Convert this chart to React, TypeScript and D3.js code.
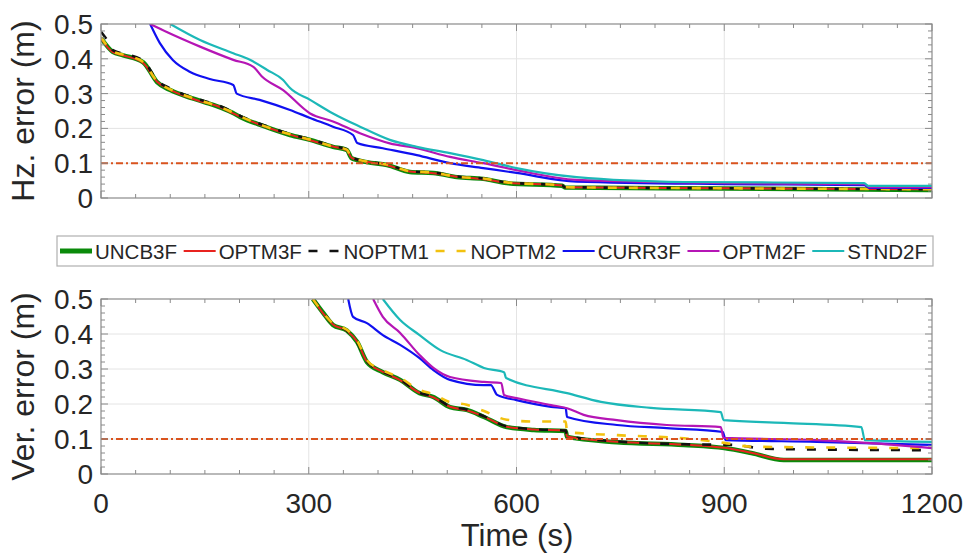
import React from 'react';
import * as d3 from 'd3';

// ---------- data ----------
const seriesNames = ['UNCB3F', 'OPTM3F', 'NOPTM1', 'NOPTM2', 'CURR3F', 'OPTM2F', 'STND2F'];
const xTicks = [0, 300, 600, 900, 1200];
const yTicks = [0, 0.1, 0.2, 0.3, 0.4, 0.5];
const yTickLabels = ['0', '0.1', '0.2', '0.3', '0.4', '0.5'];
const threshold = 0.1;

// Horizontal error [time s, error m]
const hzUNCB3F = [[0,0.46],[17,0.42],[32,0.41],[61,0.39],[81,0.333],[100,0.31],[131,0.287],[150,0.275],[167,0.264],[190,0.245],[201,0.233],[234,0.207],[273,0.181],[302,0.167],[335,0.147],[355,0.138],[362,0.114],[384,0.103],[413,0.095],[446,0.075],[480,0.072],[514,0.06],[552,0.055],[586,0.043],[666,0.035],[670,0.03],[900,0.027],[1200,0.023]];
const hzOPTM3F = [[0,0.458],[17,0.419],[32,0.41],[61,0.388],[81,0.334],[100,0.311],[131,0.286],[150,0.274],[167,0.265],[190,0.244],[201,0.234],[234,0.207],[273,0.182],[302,0.166],[335,0.148],[355,0.137],[362,0.115],[384,0.104],[413,0.094],[446,0.076],[480,0.071],[514,0.061],[552,0.054],[586,0.044],[666,0.036],[670,0.031],[900,0.028],[1200,0.025]];
const hzNOPTM1 = [[0,0.478],[10,0.45],[17,0.425],[32,0.415],[61,0.395],[81,0.338],[100,0.315],[131,0.29],[150,0.278],[167,0.268],[190,0.248],[201,0.236],[234,0.21],[273,0.184],[302,0.169],[335,0.149],[355,0.14],[362,0.116],[384,0.105],[413,0.096],[446,0.077],[480,0.073],[514,0.062],[552,0.056],[586,0.045],[666,0.036],[670,0.031],[900,0.028],[1200,0.025]];
const hzNOPTM2 = [[0,0.462],[17,0.421],[32,0.412],[61,0.391],[81,0.335],[100,0.312],[131,0.288],[150,0.276],[167,0.265],[190,0.246],[201,0.235],[234,0.208],[273,0.183],[302,0.168],[335,0.148],[355,0.139],[362,0.116],[384,0.105],[413,0.096],[446,0.077],[480,0.073],[514,0.061],[552,0.056],[586,0.045],[666,0.036],[670,0.031],[900,0.028],[1200,0.025]];
const hzCURR3F = [[71,0.5],[85,0.445],[104,0.396],[128,0.363],[157,0.342],[191,0.325],[196,0.3],[229,0.282],[273,0.253],[302,0.23],[335,0.205],[364,0.181],[370,0.158],[407,0.143],[456,0.123],[504,0.1],[552,0.086],[600,0.072],[687,0.047],[900,0.04],[1102,0.037],[1110,0.029],[1200,0.029]];
const hzOPTM2F = [[71,0.5],[95,0.477],[143,0.435],[191,0.397],[220,0.377],[232,0.35],[263,0.31],[302,0.243],[335,0.22],[374,0.186],[417,0.157],[456,0.143],[504,0.118],[552,0.1],[600,0.08],[687,0.052],[900,0.043],[1102,0.04],[1110,0.031],[1200,0.031]];
const hzSTND2F = [[100,0.5],[143,0.454],[191,0.416],[215,0.397],[240,0.368],[263,0.339],[273,0.316],[302,0.282],[335,0.243],[374,0.205],[417,0.167],[456,0.147],[504,0.129],[552,0.109],[600,0.086],[687,0.06],[842,0.046],[1102,0.043],[1108,0.035],[1200,0.035]];

// Vertical error [time s, error m]
const verUNCB3F = [[306,0.5],[321,0.46],[335,0.426],[355,0.41],[370,0.377],[384,0.32],[407,0.291],[432,0.269],[460,0.231],[480,0.22],[504,0.191],[528,0.183],[553,0.163],[586,0.134],[625,0.126],[671,0.123],[673,0.106],[745,0.091],[842,0.083],[900,0.074],[939,0.06],[986,0.04],[1200,0.04]];
const verOPTM3F = [[306,0.5],[321,0.458],[335,0.427],[355,0.409],[370,0.378],[384,0.321],[407,0.292],[432,0.268],[460,0.232],[480,0.219],[504,0.192],[528,0.182],[553,0.164],[586,0.135],[625,0.127],[671,0.124],[673,0.107],[745,0.092],[842,0.084],[900,0.075],[939,0.061],[986,0.042],[1200,0.042]];
const verNOPTM1 = [[306,0.5],[321,0.462],[335,0.428],[355,0.41],[370,0.376],[384,0.322],[407,0.293],[432,0.27],[460,0.232],[480,0.221],[504,0.193],[528,0.184],[553,0.165],[586,0.136],[625,0.128],[671,0.124],[673,0.108],[745,0.093],[842,0.085],[914,0.083],[960,0.072],[1200,0.068]];
const verNOPTM2 = [[306,0.5],[321,0.46],[335,0.43],[355,0.412],[370,0.38],[384,0.325],[407,0.296],[432,0.275],[460,0.24],[480,0.228],[504,0.205],[528,0.198],[553,0.18],[586,0.155],[625,0.15],[671,0.15],[673,0.12],[745,0.111],[842,0.102],[900,0.089],[939,0.078],[1200,0.074]];
const verCURR3F = [[357,0.5],[364,0.449],[384,0.431],[407,0.397],[432,0.369],[460,0.331],[480,0.297],[504,0.269],[553,0.254],[563,0.254],[572,0.226],[600,0.211],[650,0.192],[671,0.188],[673,0.163],[745,0.14],[817,0.131],[898,0.12],[902,0.097],[1034,0.092],[1200,0.083]];
const verOPTM2F = [[393,0.5],[407,0.449],[432,0.403],[460,0.34],[480,0.303],[504,0.277],[553,0.263],[578,0.26],[582,0.226],[600,0.217],[650,0.197],[673,0.188],[697,0.169],[745,0.154],[817,0.14],[895,0.134],[899,0.103],[1034,0.097],[1106,0.089],[1200,0.074]];
const verSTND2F = [[407,0.5],[432,0.44],[460,0.397],[490,0.354],[528,0.326],[553,0.303],[582,0.291],[585,0.274],[673,0.231],[722,0.206],[794,0.189],[895,0.177],[899,0.154],[986,0.146],[1098,0.134],[1103,0.097],[1200,0.092]];

const hzData = [hzUNCB3F, hzOPTM3F, hzNOPTM1, hzNOPTM2, hzCURR3F, hzOPTM2F, hzSTND2F];
const verData = [verUNCB3F, verOPTM3F, verNOPTM1, verNOPTM2, verCURR3F, verOPTM2F, verSTND2F];

// ---------- styles ----------
const styles = [
  { color: '#0a8a0a', width: 4.5, dash: '' },
  { color: '#e8231f', width: 2, dash: '' },
  { color: '#111111', width: 2.6, dash: '9,12' },
  { color: '#f2c10f', width: 2.6, dash: '9,12' },
  { color: '#1010f0', width: 2.2, dash: '' },
  { color: '#b515b5', width: 2.2, dash: '' },
  { color: '#1cb8b8', width: 2.2, dash: '' },
];
const FONT = '"Liberation Sans", Arial, Helvetica, sans-serif';
const TXT = '#262626';
const AXC = '#8a8a8a';
const GRID = '#e4e4e4';
const W = 968, H = 558;
const X0 = 101, X1 = 932;

const x = d3.scaleLinear().domain([0, 1200]).range([X0, X1]);

function Panel({ top, bottom, data, ylabel, showX, id }: any) {
  const y = d3.scaleLinear().domain([0, 0.5]).range([bottom, top]);
  const line = d3.line<number[]>().x(d => x(d[0])).y(d => y(d[1])).curve(d3.curveMonotoneX);
  const minorX = d3.range(0, 1201, 50);
  const minorY = d3.range(0, 0.5001, 0.02);
  return (
    <g>
      <defs>
        <clipPath id={id}><rect x={X0} y={top} width={X1 - X0} height={bottom - top} /></clipPath>
      </defs>
      <rect x={X0} y={top} width={X1 - X0} height={bottom - top} fill="#fff" />
      {xTicks.slice(1, -1).map(t => (
        <line key={'gx' + t} x1={x(t)} x2={x(t)} y1={top} y2={bottom} stroke={GRID} strokeWidth={1} />
      ))}
      {yTicks.slice(1, -1).map(t => (
        <line key={'gy' + t} x1={X0} x2={X1} y1={y(t)} y2={y(t)} stroke={GRID} strokeWidth={1} />
      ))}
      <g clipPath={`url(#${id})`}>
        {data.map((s: number[][], i: number) => (
          <path key={i} d={line(s) || ''} fill="none" stroke={styles[i].color} strokeWidth={styles[i].width}
            strokeDasharray={styles[i].dash || undefined} strokeLinejoin="round" />
        ))}
        <line x1={X0} x2={X1} y1={y(threshold)} y2={y(threshold)} stroke="#d9531e" strokeWidth={2}
          strokeDasharray="7,3,2,3" />
      </g>
      {minorX.map(t => {
        const len = t % 300 === 0 ? 7 : 4;
        return (
          <g key={'tx' + t}>
            <line x1={x(t)} x2={x(t)} y1={bottom} y2={bottom - len} stroke={AXC} />
            <line x1={x(t)} x2={x(t)} y1={top} y2={top + len} stroke={AXC} />
          </g>
        );
      })}
      {minorY.map((t, k) => {
        const len = k % 5 === 0 ? 7 : 4;
        return (
          <g key={'ty' + k}>
            <line x1={X0} x2={X0 + len} y1={y(t)} y2={y(t)} stroke={AXC} />
            <line x1={X1} x2={X1 - len} y1={y(t)} y2={y(t)} stroke={AXC} />
          </g>
        );
      })}
      <rect x={X0} y={top} width={X1 - X0} height={bottom - top} fill="none" stroke={AXC} strokeWidth={1.2} />
      {yTicks.map((t, k) => (
        <text key={'yl' + k} x={93} y={y(t)} dy="0.36em" textAnchor="end" fontSize={28} fontFamily={FONT} fill={TXT}>
          {yTickLabels[k]}
        </text>
      ))}
      {showX && xTicks.map(t => (
        <text key={'xl' + t} x={x(t)} y={513} textAnchor="middle" fontSize={28} fontFamily={FONT} fill={TXT}>{t}</text>
      ))}
      <text transform={`translate(34,${(top + bottom) / 2}) rotate(-90)`} textAnchor="middle" fontSize={32}
        fontFamily={FONT} fill={TXT}>{ylabel}</text>
    </g>
  );
}

function measure(text: string, font: string) {
  if (typeof document === 'undefined') return text.length * 11;
  const c = document.createElement('canvas').getContext('2d');
  if (!c) return text.length * 11;
  c.font = font;
  return c.measureText(text).width;
}

function Legend() {
  const L = 57, R = 933, T = 236, B = 266;
  const fs = 20.5;
  const lineLen = 32, pad = 3;
  const widths = seriesNames.map(n => measure(n, `${fs}px "Liberation Sans", Arial, sans-serif`));
  const start = 60, end = 927;
  const total = widths.reduce((a, b) => a + b, 0) + seriesNames.length * (lineLen + pad);
  const gap = (end - start - total) / (seriesNames.length - 1);
  let cx = start;
  const cy = (T + B) / 2;
  const items = seriesNames.map((n, i) => {
    const x0 = cx;
    cx += lineLen + pad + widths[i] + gap;
    return (
      <g key={n}>
        <line x1={x0} x2={x0 + lineLen} y1={cy} y2={cy} stroke={styles[i].color}
          strokeWidth={i === 0 ? 5 : styles[i].width} strokeDasharray={styles[i].dash || undefined} />
        <text x={x0 + lineLen + pad} y={cy + 7.5} fontSize={fs} fontFamily={FONT} fill={TXT}>{n}</text>
      </g>
    );
  });
  return (
    <g>
      <rect x={L} y={T} width={R - L} height={B - T} fill="#fff" stroke="#b0b0b0" strokeWidth={1.2} />
      {items}
    </g>
  );
}

export default function App() {
  return (
    <svg width={W} height={H} viewBox={`0 0 ${W} ${H}`}
      style={{ position: 'absolute', left: 0, top: 0, background: '#fff' }}>
      <rect width={W} height={H} fill="#fff" />
      <Panel top={24} bottom={198} data={hzData} ylabel="Hz. error (m)" showX={false} id="clipTop" />
      <Panel top={299} bottom={474} data={verData} ylabel="Ver. error (m)" showX={true} id="clipBot" />
      <Legend />
      <text x={517} y={546} textAnchor="middle" fontSize={31} fontFamily={FONT} fill={TXT}>Time (s)</text>
    </svg>
  );
}
